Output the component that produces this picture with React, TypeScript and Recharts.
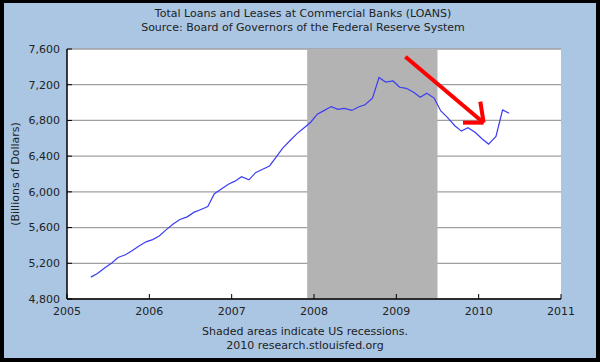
import React from 'react';
import { LineChart, Line, XAxis, YAxis, CartesianGrid, ReferenceArea, ReferenceLine } from 'recharts';

// mid-month decimal years, Apr 2005 .. May 2010
const months: number[] = [
  2005.29, 2005.37, 2005.46, 2005.54, 2005.62, 2005.71, 2005.79, 2005.87, 2005.96,
  2006.04, 2006.12, 2006.21, 2006.29, 2006.37, 2006.46, 2006.54, 2006.62, 2006.71, 2006.79, 2006.87, 2006.96,
  2007.04, 2007.12, 2007.21, 2007.29, 2007.37, 2007.46, 2007.54, 2007.62, 2007.71, 2007.79, 2007.87, 2007.96,
  2008.04, 2008.12, 2008.21, 2008.29, 2008.37, 2008.46, 2008.54, 2008.62, 2008.71, 2008.79, 2008.87, 2008.96,
  2009.04, 2009.12, 2009.21, 2009.29, 2009.37, 2009.46, 2009.54, 2009.62, 2009.71, 2009.79, 2009.87, 2009.96,
  2010.04, 2010.12, 2010.21, 2010.29, 2010.37,
];
const loans: number[] = [
  5045, 5085, 5150, 5200, 5265, 5295, 5340, 5390, 5440,
  5465, 5505, 5580, 5640, 5690, 5720, 5770, 5800, 5835, 5980, 6030, 6085,
  6120, 6170, 6135, 6215, 6250, 6290, 6390, 6490, 6575, 6650, 6710, 6780,
  6870, 6910, 6955, 6925, 6935, 6912, 6950, 6975, 7050, 7280, 7230, 7242,
  7171, 7160, 7115, 7060, 7104, 7050, 6906, 6835, 6741, 6680, 6719, 6665,
  6595, 6535, 6620, 6917, 6880,
];
const xTicks: number[] = [2005, 2006, 2007, 2008, 2009, 2010, 2011];
const yTicks: number[] = [4800, 5200, 5600, 6000, 6400, 6800, 7200, 7600];
const recession: [number, number] = [2007.917, 2009.5];
// arrow annotation: [x, y] points (decimal year, billions)
const arrowTail: [number, number] = [2009.11, 7514];
const arrowTip: [number, number] = [2010.06, 6775];
const arrowHeadUp: [number, number] = [2010.02, 7010];
const arrowHeadLeft: [number, number] = [2009.81, 6775];

const data = months.map((t, i) => ({ t, v: loans[i] }));

const font = 'DejaVu Sans, Verdana, sans-serif';
const textColor = '#222';

export default function App() {
  return (
    <div style={{ position: 'absolute', left: 0, top: 0, width: 600, height: 362, background: '#aac6e2', fontFamily: font }}>
      <LineChart width={600} height={362} data={data} margin={{ top: 49, right: 39, bottom: 33, left: 7 }}>
        <CartesianGrid fill="#ffffff" vertical={false} stroke="#a0a0a0" strokeWidth={1.3} />
        <ReferenceArea x1={recession[0]} x2={recession[1]} y1={4800} y2={7600} fill="#b3b3b3" fillOpacity={1} stroke="none" />
        <XAxis
          dataKey="t"
          type="number"
          domain={[2005, 2011]}
          ticks={xTicks}
          height={30}
          allowDataOverflow
          tickSize={-5}
          tickMargin={13}
          axisLine={{ stroke: '#000', strokeWidth: 1.5 }}
          tickLine={{ stroke: '#000' }}
          tick={{ fill: textColor, fontSize: 11, fontFamily: font }}
        />
        <YAxis
          type="number"
          domain={[4800, 7600]}
          ticks={yTicks}
          width={60}
          allowDataOverflow
          tickSize={-5}
          tickMargin={12}
          axisLine={{ stroke: '#000', strokeWidth: 1.5 }}
          tickLine={{ stroke: '#000' }}
          tick={{ fill: textColor, fontSize: 11, fontFamily: font }}
          tickFormatter={(v: number) => v.toLocaleString('en-US')}
        />
        <Line dataKey="v" stroke="#3c3cf5" strokeWidth={1.2} dot={false} isAnimationActive={false} />
        <ReferenceLine segment={[{ x: arrowTail[0], y: arrowTail[1] }, { x: arrowTip[0], y: arrowTip[1] }]} stroke="#ff0000" strokeWidth={4} ifOverflow="visible" />
        <ReferenceLine segment={[{ x: arrowHeadUp[0], y: arrowHeadUp[1] }, { x: arrowTip[0], y: arrowTip[1] }]} stroke="#ff0000" strokeWidth={4} ifOverflow="visible" />
        <ReferenceLine segment={[{ x: arrowHeadLeft[0], y: arrowHeadLeft[1] }, { x: arrowTip[0], y: arrowTip[1] }]} stroke="#ff0000" strokeWidth={4} ifOverflow="visible" />
      </LineChart>
      <div style={{ position: 'absolute', left: 0, top: 7, width: 606, textAlign: 'center', fontSize: 11, lineHeight: '14px', color: textColor }}>
        <div>Total Loans and Leases at Commercial Banks (LOANS)</div>
        <div>Source: Board of Governors of the Federal Reserve System</div>
      </div>
      <div style={{ position: 'absolute', left: 15, top: 174, width: 0, height: 0 }}>
        <div style={{ position: 'absolute', transform: 'translate(-50%, -50%) rotate(-90deg)', whiteSpace: 'nowrap', fontSize: 11, color: textColor }}>
          (Billions of Dollars)
        </div>
      </div>
      <div style={{ position: 'absolute', left: 0, top: 325, width: 610, textAlign: 'center', fontSize: 11, lineHeight: '14px', color: textColor }}>
        <div>Shaded areas indicate US recessions.</div>
        <div>2010 research.stlouisfed.org</div>
      </div>
      <div style={{ position: 'absolute', inset: 0, boxSizing: 'border-box', borderStyle: 'solid', borderColor: '#000', borderWidth: '3px 4px 4px 4px', pointerEvents: 'none' }} />
    </div>
  );
}
